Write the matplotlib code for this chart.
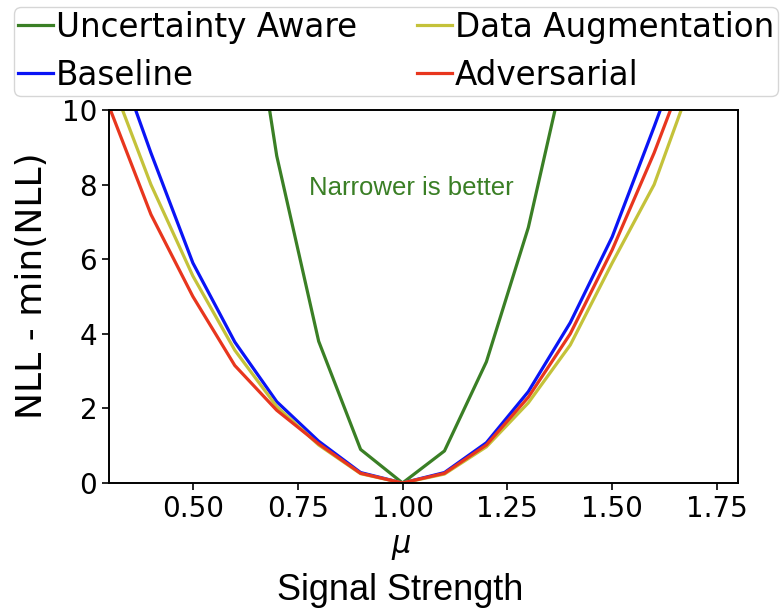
import matplotlib
matplotlib.use("Agg")
import matplotlib.pyplot as plt

# signal strength grid (mu) and NLL - min(NLL)
mu = [0.3, 0.4, 0.5, 0.6, 0.7, 0.8, 0.9, 1.0, 1.1, 1.2, 1.3, 1.4, 1.5, 1.6, 1.7]
baseline = [12.0, 8.85, 5.9, 3.78, 2.18, 1.12, 0.28, 0.0, 0.28, 1.08, 2.45, 4.3, 6.6, 9.55, 12.6]
data_aug = [10.95, 8.0, 5.55, 3.56, 2.05, 1.02, 0.25, 0.0, 0.24, 0.97, 2.15, 3.7, 5.9, 8.0, 11.1]
adversarial = [10.1, 7.2, 5.0, 3.15, 1.95, 1.05, 0.26, 0.0, 0.26, 1.02, 2.3, 4.0, 6.25, 8.85, 11.8]

mu_ua = [0.6, 0.7, 0.8, 0.9, 1.0, 1.1, 1.2, 1.3, 1.4]
uncertainty_aware = [16.0, 8.77, 3.8, 0.9, 0.0, 0.86, 3.25, 6.85, 11.8]

C_GREEN = "#3a7f25"
C_BLUE = "#0a14f5"
C_YELLOW = "#c4c23a"
C_RED = "#e8361e"

W, H = 780, 614
fig = plt.figure(figsize=(W / 100, H / 100), dpi=100)
ax = fig.add_axes([109 / W, 1 - 483 / H, (738 - 109) / W, (483 - 110) / H])

lw = 2.3
ax.plot(mu_ua, uncertainty_aware, color=C_GREEN, lw=lw, label="Uncertainty Aware")
ax.plot(mu, baseline, color=C_BLUE, lw=lw, label="Baseline")
ax.plot(mu, data_aug, color=C_YELLOW, lw=lw, label="Data Augmentation")
ax.plot(mu, adversarial, color=C_RED, lw=lw, label="Adversarial")

ax.set_xlim(0.3, 1.8)
ax.set_ylim(0, 10)
ax.set_xticks([0.5, 0.75, 1.0, 1.25, 1.5, 1.75])
ax.set_xticklabels([f"{t:.2f}" for t in ax.get_xticks()])
ax.set_yticks([0, 2, 4, 6, 8, 10])
ax.tick_params(labelsize=20, width=1.2, length=5)
for s in ax.spines.values():
    s.set_linewidth(1.4)

ax.text(1.02, 7.92, "Narrower is better", color=C_GREEN, fontsize=18.5,
        family=["Liberation Sans", "DejaVu Sans"], ha="center", va="center")

fig.text(32 / W, 1 - 286 / H, "NLL - min(NLL)", rotation=90, fontsize=26,
         ha="center", va="center")
fig.text(401 / W, 1 - 548 / H, r"$\mu$", fontsize=22, ha="center", va="center")
fig.text(400 / W, 1 - 590 / H, "Signal Strength", fontsize=26,
         family=["Liberation Sans", "DejaVu Sans"], ha="center", va="center")

fig.legend(loc="upper left", ncol=2, mode="expand",
           bbox_to_anchor=(14 / W, 1 - 93 / H, 764 / W, 86 / H),
           fontsize=23.5, handlelength=1.07, handletextpad=0.1,
           labelspacing=0.45, borderpad=0.12, borderaxespad=0.0)

fig.savefig("out.png", dpi=100)
